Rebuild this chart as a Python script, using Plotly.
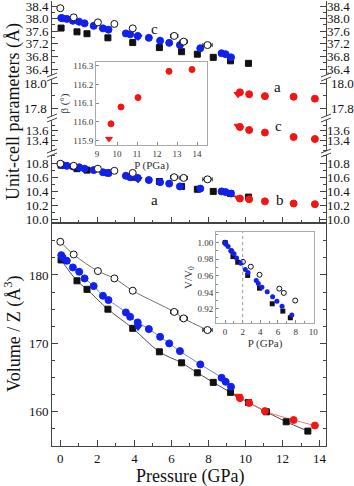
import plotly.graph_objects as go

# ---- data ----
# blue circles (phase I, run 1)
blue_p = [0.05, 0.12, 0.35, 0.68, 1.02, 1.31, 1.8, 2.3, 2.6, 3.54, 3.77, 4.18, 4.78, 5.39, 5.88, 6.46, 7.56, 8.71, 8.93, 9.22]
blue_c = [38.02, 38.01, 37.99, 37.93, 37.90, 37.85, 37.77, 37.69, 37.65, 37.53, 37.50, 37.45, 37.39, 37.30, 37.23, 37.16, 37.06, 36.90, 36.87, 36.77]
blue_a = [10.78, 10.77, 10.76, 10.75, 10.74, 10.72, 10.70, 10.67, 10.66, 10.62, 10.60, 10.59, 10.56, 10.53, 10.51, 10.47, 10.44, 10.40, 10.39, 10.37]
blue_v = [182.9, 182.57, 182.08, 181.1, 180.47, 179.5, 178.38, 176.96, 176.33, 174.53, 173.89, 173.07, 172.09, 170.96, 170.0, 168.87, 166.93, 164.97, 164.39, 163.66]
# blue down-triangle
bt_p = [4.2]
bt_c = [37.42]
bt_a = [10.57]
bt_v = [172.4]

# black squares
black_p = [0.04, 0.9, 1.44, 2.57, 3.91, 5.35, 6.55, 7.4, 8.26, 9.19, 10.16, 11.13, 12.2, 13.37]
black_c = [37.70, 37.58, 37.52, 37.39, 37.24, 37.08, 36.95, 36.87, 36.77, 36.66, 36.58]
black_a = [10.77, 10.72, 10.70, 10.66, 10.60, 10.54, 10.47, 10.43, 10.40, 10.37, 10.32]
black_v = [182.2, 179.15, 177.9, 175.0, 172.2, 168.77, 167.16, 165.7, 164.3, 162.84, 161.37, 160.0, 158.54, 157.18]

# open circles
open_p = [0.0, 0.72, 2.03, 2.92, 3.91, 6.15, 6.66, 7.95]
open_c = [38.33, 38.04, 37.88, 37.83, 37.69, 37.45, 37.27, 37.16]
open_a = [10.79, 10.76, 10.72, 10.69, 10.66, 10.60, 10.59, 10.57]
open_v = [184.85, 183.0, 180.57, 179.5, 177.7, 174.6, 173.65, 171.95]
open_dp = [0, 0, 0, 0, 0, 0.2, 0.2, 0.25]

# red circles (high pressure phase)
red_p = [9.7, 10.2, 11.05, 12.6, 13.75]
red_a = [17.925, 17.91, 17.895, 17.89, 17.875]
red_c = [13.66, 13.60, 13.55, 13.46, 13.42]
red_b = [10.30, 10.29, 10.26, 10.23, 10.22]
red_v = [162.0, 161.3, 160.1, 158.8, 158.0]
red_beta = [115.99, 116.08, 116.13, 116.27, 116.28]
# red down-triangle
rt_p = [9.6]
rt_a = [17.91]
rt_c = [13.68]
rt_b = [10.31]
rt_v = [162.3]
rt_beta = [115.91]

# labels of the short "a" segment of the broken axis
seg2_labels = [17.8, 18.0]

p_mark = 2  # dotted line in the V/V0 inset

# ---- page geometry (pixels) ----
W, H = 354, 486
L, R, T, B = 52, 326, 1, 446


def px2x(x):
    return (x - L) / (R - L)


def px2y(y):
    return (B - y) / (B - T)


FONT = "Liberation Serif"
BLUE = "#1020f0"
RED = "#f41414"
BLACK = "#111111"

fig = go.Figure()


def pts(x, y, xa, ya, symbol, color, size=7, fill=None, ex=None, ey=None):
    m = dict(symbol=symbol, size=size, color=fill if fill else color,
             line=dict(color=color, width=1))
    tr = go.Scatter(x=x, y=y, mode="markers", marker=m,
                    xaxis=xa, yaxis=ya, showlegend=False, hoverinfo="skip")
    if ex is not None:
        tr.error_x = dict(type="data", array=ex, color=BLACK, thickness=1, width=2)
    if ey is not None:
        tr.error_y = dict(type="data", array=ey, color=BLACK, thickness=1, width=2)
    fig.add_trace(tr)


def ghost(x, y, ya):
    # invisible copy so that the right-hand duplicate axis gets drawn
    fig.add_trace(go.Scatter(x=x, y=y, mode="markers", marker=dict(opacity=0),
                             xaxis="x", yaxis=ya, showlegend=False, hoverinfo="skip"))


def curve(x, y, color):
    fig.add_trace(go.Scatter(x=x, y=y, mode="lines", line=dict(color=color, width=1, shape="spline"),
                             xaxis="x2", yaxis="y9", showlegend=False, hoverinfo="skip"))


# top panel, segment 1 (c, ~37-38)
pts(black_p[:len(black_c)], black_c, "x", "y", "square", BLACK, 6)
pts(blue_p, blue_c, "x", "y", "circle", BLUE)
pts(bt_p, bt_c, "x", "y", "triangle-down", BLUE)
pts(open_p, open_c, "x", "y", "circle", BLACK, 7, fill="white", ex=open_dp, ey=[0.06] * len(open_p))
ghost(blue_p, blue_c, "y5")
# segment 2 (a, high P)
pts(red_p, red_a, "x", "y2", "circle", RED)
pts(rt_p, rt_a, "x", "y2", "triangle-down", RED)
ghost(red_p, red_a, "y6")
# segment 3 (c, high P)
pts(red_p, red_c, "x", "y3", "circle", RED)
pts(rt_p, rt_c, "x", "y3", "triangle-down", RED)
ghost(red_p, red_c, "y7")
# segment 4 (a low P, b high P)
pts(black_p[:len(black_a)], black_a, "x", "y4", "square", BLACK, 6)
pts(blue_p, blue_a, "x", "y4", "circle", BLUE)
pts(bt_p, bt_a, "x", "y4", "triangle-down", BLUE)
pts(open_p, open_a, "x", "y4", "circle", BLACK, 7, fill="white", ex=open_dp, ey=[0.01] * len(open_p))
pts(red_p, red_b, "x", "y4", "circle", RED)
pts(rt_p, rt_b, "x", "y4", "triangle-down", RED)
ghost(red_p, red_b, "y8")

# bottom panel: volume
curve(open_p, open_v, "#707070")
curve(black_p, black_v, "#505050")
curve(blue_p, blue_v, "#6a7cff")
curve(red_p, red_v, "#ff7070")
pts(black_p, black_v, "x2", "y9", "square", BLACK, 6)
pts(blue_p, blue_v, "x2", "y9", "circle", BLUE)
pts(bt_p, bt_v, "x2", "y9", "triangle-down", BLUE)
pts(open_p, open_v, "x2", "y9", "circle", BLACK, 7, fill="white", ex=open_dp, ey=[0.35] * len(open_p))
pts(red_p, red_v, "x2", "y9", "circle", RED)
pts(rt_p, rt_v, "x2", "y9", "triangle-down", RED)

# inset: beta
pts(red_p, red_beta, "x4", "y10", "circle", RED, 6)
pts(rt_p, rt_beta, "x4", "y10", "triangle-down", RED, 6)

# inset: V/V0 (relative to the first point of each run)
fig.add_trace(go.Scatter(x=open_p, y=[v / open_v[0] for v in open_v], mode="markers",
                         marker=dict(symbol="circle-open", size=5, color=BLACK, line=dict(width=1)),
                         xaxis="x5", yaxis="y11", showlegend=False, hoverinfo="skip"))
vi_black = [(p, v / black_v[0]) for p, v in zip(black_p, black_v) if p < 8]
fig.add_trace(go.Scatter(x=[a for a, _ in vi_black], y=[b for _, b in vi_black], mode="markers",
                         marker=dict(symbol="square", size=5, color=BLACK),
                         xaxis="x5", yaxis="y11", showlegend=False, hoverinfo="skip"))
vi_blue = [(p, v / blue_v[0]) for p, v in zip(blue_p, blue_v) if p < 8]
fig.add_trace(go.Scatter(x=[a for a, _ in vi_blue], y=[b for _, b in vi_blue], mode="markers",
                         marker=dict(symbol="circle", size=5, color=BLUE),
                         xaxis="x5", yaxis="y11", showlegend=False, hoverinfo="skip"))

# ---- axes ----
tickfont = dict(family=FONT, size=13, color=BLACK)
xr = [-0.45, 14.35]
xcommon = dict(range=xr, dtick=2, tick0=0, ticks="inside", ticklen=6, tickcolor="#444",
               minor=dict(ticks="inside", ticklen=3, dtick=1, tickcolor="#444"),
               showline=True, linecolor="#444", linewidth=1, showgrid=False, zeroline=False,
               tickfont=tickfont, automargin=False)


def yseg(lo, hi, dom, dt, t0, mdt, tv=None, labels=True, side="left", overl=None):
    d = dict(range=[lo, hi], domain=dom, dtick=dt, tick0=t0, tickformat=".1f",
             ticks="inside", ticklen=6, tickcolor="#444",
             minor=dict(ticks="inside", ticklen=3, dtick=mdt, tickcolor="#444"),
             showgrid=False, zeroline=False, tickfont=tickfont, anchor="x", side=side,
             automargin=False, ticklabeloverflow="allow", showticklabels=labels)
    if tv:
        d.update(tickmode="array", tickvals=tv)
    if overl:
        d.update(overlaying=overl, showline=False)
    else:
        d.update(showline=True, mirror=True, linecolor="#444", linewidth=1)
    return d


# (range low, range high, domain, label step, first label, minor step, explicit labels, axis draws labels)
seg = [
    (36.178, 38.559, [px2y(76), px2y(1)], 0.4, 36.4, 0.2, None, True),
    (17.728, 18.04, [px2y(117), px2y(78)], 0.2, 17.8, 0.1, None, False),
    (13.16, 13.82, [px2y(152), px2y(119)], 0.2, 13.4, 0.1, [13.4, 13.6], True),
    (9.955, 10.927, [px2y(223), px2y(154)], 0.2, 10.2, 0.1, None, True),
]
lay = {}
for i, s in enumerate(seg):
    name = "yaxis" if i == 0 else f"yaxis{i + 1}"
    lay[name] = yseg(*s)
    ref = "y" if i == 0 else f"y{i + 1}"
    lay[f"yaxis{i + 5}"] = yseg(*s, side="right", overl=ref)

lay["xaxis"] = dict(xcommon, anchor="y4", showticklabels=False, domain=[0, 1])
lay["xaxis3"] = dict(xcommon, anchor="y", side="top", overlaying="x", showticklabels=False)
lay["xaxis2"] = dict(xcommon, anchor="y9", domain=[0, 1], mirror=True)
lay["yaxis9"] = dict(range=[155, 187.6], domain=[0, px2y(223)], anchor="x2", dtick=10, tick0=160,
                     ticks="inside", ticklen=6, tickcolor="#444", mirror="allticks",
                     minor=dict(ticks="inside", ticklen=3, dtick=2.5, tickcolor="#444"),
                     showline=True, linecolor="#444", linewidth=1, showgrid=False, zeroline=False,
                     tickfont=tickfont, automargin=False)

insfont = dict(family=FONT, size=9, color="#333")
ins_common = dict(showline=True, mirror=True, linecolor="#aaa", linewidth=1, showgrid=False,
                  zeroline=False, ticks="inside", ticklen=3, tickcolor="#888", tickfont=insfont,
                  automargin=False)
ins_title = dict(family=FONT, size=11, color="#333")
lay["xaxis4"] = dict(ins_common, range=[8.95, 14.5], dtick=1, tick0=9, anchor="y10",
                     domain=[px2x(96), px2x(207)],
                     title=dict(text="P (PGa)", font=ins_title, standoff=2))
lay["yaxis10"] = dict(ins_common, range=[115.877, 116.32], dtick=0.1, tick0=115.9, tickformat=".1f",
                      anchor="x4", domain=[px2y(145), px2y(62)],
                      title=dict(text="β (°)", font=ins_title, standoff=2))
lay["xaxis5"] = dict(ins_common, range=[-1.02, 10.08], dtick=2, tick0=0, anchor="y11",
                     domain=[px2x(216), px2x(314)],
                     minor=dict(ticks="inside", ticklen=2, dtick=1, tickcolor="#888"),
                     title=dict(text="P (GPa)", font=ins_title, standoff=2))
lay["yaxis11"] = dict(ins_common, range=[0.9031, 1.0129], dtick=0.02, tick0=0.92, tickformat=".2f",
                      anchor="x5", domain=[px2y(323), px2y(232)],
                      minor=dict(ticks="inside", ticklen=2, dtick=0.01, tickcolor="#888"),
                      title=dict(text="V/V<sub>0</sub>", font=ins_title, standoff=2))

fig.update_layout(**lay)

# ---- axis breaks (//) and titles ----
shapes = []
for yc in (77, 118, 153):
    for xc in (L, R):
        shapes.append(dict(type="rect", xref="paper", yref="paper",
                           x0=px2x(xc - 1), x1=px2x(xc + 1), y0=px2y(yc + 2), y1=px2y(yc - 2),
                           line=dict(width=0), fillcolor="white"))
        for d in (-2, 2):
            shapes.append(dict(type="line", xref="paper", yref="paper",
                               x0=px2x(xc - 5), y0=px2y(yc + d + 2), x1=px2x(xc + 5), y1=px2y(yc + d - 2),
                               line=dict(color="#444", width=1)))
shapes.append(dict(type="line", xref="x5", yref="y11 domain", x0=p_mark, x1=p_mark, y0=0, y1=1,
                   line=dict(color="#999", width=1, dash="dot")))
fig.update_layout(shapes=shapes)

big = dict(family=FONT, size=18, color=BLACK)
lab = dict(family=FONT, size=15, color=BLACK)
ann = [
    dict(text="Unit-cell parameters (Å)", xref="paper", yref="paper", x=px2x(13), y=px2y(112),
         textangle=-90, font=big),
    dict(text="Volume / Z (Å<sup>3</sup>)", xref="paper", yref="paper", x=px2x(13), y=px2y(334),
         textangle=-90, font=big),
    dict(text="Pressure (GPa)", xref="paper", yref="paper", x=px2x(190), y=px2y(476), font=big),
    dict(text="c", xref="x", yref="y", x=5.1, y=37.68, font=lab),
    dict(text="a", xref="x", yref="y2", x=11.75, y=17.97, font=lab),
    dict(text="c", xref="x", yref="y3", x=11.8, y=13.68, font=lab),
    dict(text="a", xref="x", yref="y4", x=5.1, y=10.28, font=lab),
    dict(text="b", xref="x", yref="y4", x=11.85, y=10.28, font=lab),
]
for a in ann:
    a.update(showarrow=False, xanchor="center", yanchor="middle")
# tick labels of the "a" segment, both sides
for v in seg2_labels:
    ann.append(dict(text=f"{v:.1f}", xref="paper", yref="y2", x=px2x(L - 3), y=v, showarrow=False,
                    xanchor="right", yanchor="middle", font=tickfont))
    ann.append(dict(text=f"{v:.1f}", xref="paper", yref="y2", x=px2x(R + 3), y=v, showarrow=False,
                    xanchor="left", yanchor="middle", font=tickfont))
fig.update_layout(annotations=ann)

fig.update_layout(width=W, height=H, margin=dict(l=L, r=W - R, t=T, b=H - B, autoexpand=False),
                  plot_bgcolor="white", paper_bgcolor="white", showlegend=False)

fig.write_html("out.html", config={"displayModeBar": False},
               post_script="document.body.style.margin='0px';")
